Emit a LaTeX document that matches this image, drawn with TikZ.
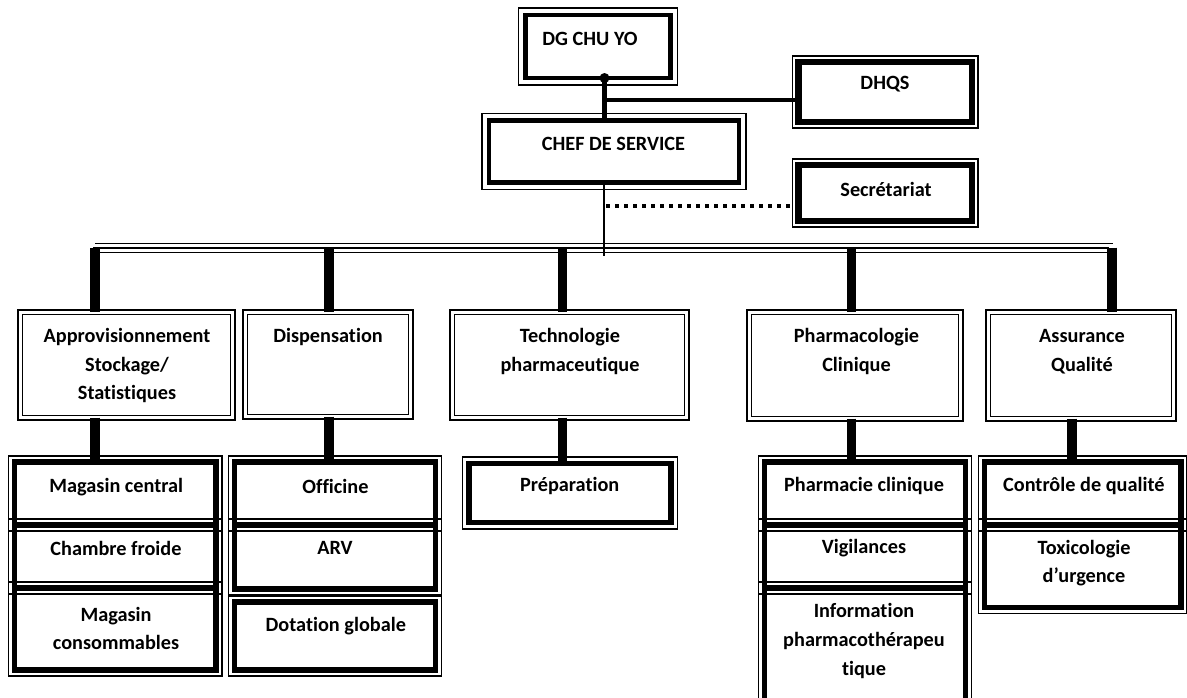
\documentclass[tikz,border=0pt]{standalone}
\usepackage{fontspec}
\setmainfont{Carlito}[Ligatures=NoCommon]
\usetikzlibrary{fit,calc}
\tikzset{
  tb/.style={draw=black, inner sep=0pt, outer sep=0pt},
  tbout/.style={draw=black, line width=0.95pt},
  db/.style={draw=black, double=white, double distance=2.6pt, line width=0.95pt, inner sep=0pt, outer sep=0pt},
  txt/.style={font=\fontsize{15.2}{21.4}\selectfont\bfseries, align=center, inner sep=0pt, text=black},
  drop/.style={line width=7pt},
  link/.style={line width=4pt},
  thinlink/.style={line width=1pt},
  dotline/.style={line width=3pt, dash pattern=on 3.2pt off 3.55pt},
  busline/.style={line width=1.1pt},
  busmid/.style={line width=1.8pt}
}
% thick inner line (#6 = width), thin outer line at offset #7 (px)
\newcommand{\TBox}[7]{%
  \node[tb, line width=#6, fit={(#2,#3)(#4,#5)}] (#1) {};
  \draw[tbout] ($(#1.north west)+(-#7,-#7)$) rectangle ($(#1.south east)+(#7,#7)$);
}
% double thin line
\newcommand{\DBox}[5]{%
  \node[db, fit={(#2,#3)(#4,#5)}] (#1) {};
}
\begin{document}
\begin{tikzpicture}[x=0.75pt, y=-0.75pt]
\fill[white] (0,0) rectangle (1187,697);
\useasboundingbox (0,0) rectangle (1187,697);

% ---------- top level ----------
\TBox{dg}{525.3}{15}{670.5}{78}{3.3pt}{7}
\TBox{chef}{489}{120.5}{739}{182.5}{3.3pt}{7}
\TBox{dhqs}{798.3}{62}{972}{122}{4.8pt}{6}
\TBox{secr}{798.3}{165}{972}{221}{4.8pt}{6}

% ---------- second level ----------
\DBox{appro}{20.4}{312.4}{232.6}{417.6}
\DBox{disp}{245.4}{312.4}{410.6}{416.6}
\DBox{tech}{452.4}{312.4}{686.6}{417.6}
\DBox{pcl}{749.4}{312.4}{960.6}{418.6}
\DBox{aq}{988.4}{312.4}{1173.6}{418.6}

% ---------- third level ----------
\TBox{mc}{14.2}{462}{216}{525}{3.9pt}{6}
\TBox{cf}{14.2}{525}{216}{588}{3.9pt}{6}
\TBox{mcons}{14.2}{588}{216}{670}{3.9pt}{6}
\TBox{offi}{234.5}{462}{435.5}{525}{3.9pt}{6}
\TBox{arv}{234.5}{525}{435.5}{589}{3.9pt}{6}
\TBox{dot}{234.5}{602}{435.5}{670}{3.9pt}{6}
\TBox{prep}{469}{463.5}{671}{522.5}{3.9pt}{6.5}
\TBox{phc}{764.5}{462}{965.5}{525}{3.9pt}{6}
\TBox{vig}{764.5}{525}{965.5}{588}{3.9pt}{6}
\TBox{info}{764.5}{588}{965.5}{708}{3.9pt}{6}
\TBox{cq}{984.5}{462}{1181}{525}{3.9pt}{6}
\TBox{tox}{984.5}{525}{1181}{607.5}{3.9pt}{6}

% ---------- connectors top ----------
\coordinate (j) at (604.5,100);
\draw[link, line width=4.2pt] (dg.south -| j) -- (chef.north -| j);
\fill (dg.south -| j) circle (5);
\draw[link, line width=3.4pt] (j) -- (j -| dhqs.west);
\coordinate (bc) at (604,256);
\draw[thinlink] (chef.south -| bc) -- (bc);
\coordinate (sd) at (606,206);
\draw[dotline] (sd) -- (sd -| secr.west);

% ---------- bus ----------
\coordinate (busL) at (93,248);
\coordinate (busR) at (1113,248);
\draw[busline] ($(busL)+(2,-4.5)$) -- ($(busR)+(0,-4.5)$);
\draw[busmid] (busL) -- ($(busR)+(-4,0)$);
\draw[busline] ($(busL)+(2,4.5)$) -- ($(busR)+(-4,4.5)$);

% ---------- drops bus -> level 2 ----------
\coordinate (d1) at (95,247.5);
\coordinate (d2) at (329,247.5);
\coordinate (d3) at (562.5,247.5);
\coordinate (d4) at (851.5,247.5);
\coordinate (d5) at (1112,247.5);
\draw[drop] (d1) -- (d1 |- appro.north);
\draw[drop] (d2) -- (d2 |- disp.north);
\draw[drop] (d3) -- (d3 |- tech.north);
\draw[drop] (d4) -- (d4 |- pcl.north);
\draw[drop] (d5) -- (d5 |- aq.north);

% ---------- drops level 2 -> level 3 ----------
\coordinate (e1) at (95,440);
\coordinate (e2) at (329,440);
\coordinate (e3) at (562.5,440);
\coordinate (e4) at (851.5,440);
\coordinate (e5) at (1072,440);
\draw[drop] (appro.south -| e1) -- (mc.north -| e1);
\draw[drop] (disp.south -| e2) -- (offi.north -| e2);
\draw[drop] (tech.south -| e3) -- (prep.north -| e3);
\draw[drop] (pcl.south -| e4) -- (phc.north -| e4);
\draw[drop] (aq.south -| e5) -- (cq.north -| e5);

% ---------- texts ----------
\node[txt] (tdg) at (590,38.5) {DG CHU YO};
\node[txt] (tchef) at (613.5,143.5) {CHEF DE SERVICE};
\node[txt] (tdhqs) at (885,84) {DHQS};
\node[txt] (tsecr) at (886,189) {Secrétariat};

\node[txt] (tappro) at (127,365.5) {Approvisionnement\\Stockage/\\Statistiques};
\node[txt] (tdisp) at (328,337) {Dispensation};
\node[txt] (ttech) at (570,351.5) {Technologie\\pharmaceutique};
\node[txt] (tpcl) at (856.5,351.5) {Pharmacologie\\Clinique};
\node[txt] (taq) at (1082,351.5) {Assurance\\Qualité};

\node[txt] (tmc) at (116.3,487.5) {Magasin central};
\node[txt] (tcf) at (116,548) {Chambre froide};
\node[txt] (tmcons) at (116,628.5) {Magasin\\consommables};
\node[txt] (toffi) at (335.5,486.7) {Officine};
\node[txt] (tarv) at (335,548) {ARV};
\node[txt] (tdot) at (335.8,625.7) {Dotation globale};
\node[txt] (tprep) at (569.7,486) {Préparation};
\node[txt] (tphc) at (864,486) {Pharmacie clinique};
\node[txt] (tvig) at (864,548) {Vigilances};
\node[txt] (tinfo) at (864,641) {Information\\pharmacothérapeu\\tique};
\node[txt] (tcq) at (1083.8,486) {Contrôle de qualité};
\node[txt] (ttox) at (1084,563.3) {Toxicologie\\d’urgence};
\end{tikzpicture}
\end{document}
